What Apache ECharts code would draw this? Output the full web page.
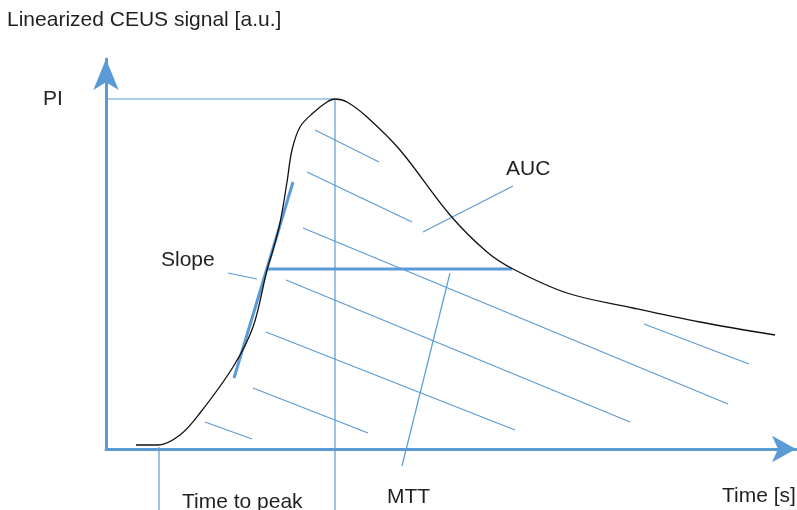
<!DOCTYPE html>
<html>
<head>
<meta charset="utf-8">
<script src="https://cdn.jsdelivr.net/npm/echarts@6/dist/echarts.min.js"></script>
<style>html,body{margin:0;padding:0;background:#fff}#c{width:797px;height:510px}</style>
</head>
<body>
<div id="c"></div>
<script>
// Time-intensity curve (time in s, signal in a.u.)
const curve = [[3.0,0.4],[5.2,0.4],[7.4,1.4],[9.4,3.6],[12.7,8.2],[14.7,12.2],[16.1,17.9],[16.7,19.9],[17.4,22.6],[18.1,26.7],[18.6,29.9],[19.4,32.2],[20.7,33.6],[22.1,34.7],[22.9,35.0],[24.1,34.7],[26.1,33.2],[29.4,29.9],[34.4,23.4],[38.1,19.7],[40.7,18.0],[46.1,15.6],[52.7,14.1],[59.4,12.7],[66.9,11.4]];
const peakTime = 22.9;
const peakIntensity = 35.0;
const timeToPeakStart = 5.3;
const slopeLine = [[12.8,7.1],[18.7,26.7]];
const halfLine = [[16.1,18.0],[40.6,18.0]];
const hatchLines = [
  [[20.9,31.9],[27.3,28.7]],
  [[20.1,27.7],[30.6,22.7]],
  [[19.7,22.1],[62.2,4.5]],
  [[18.0,16.9],[52.4,2.7]],
  [[16.0,11.7],[40.9,1.9]],
  [[14.7,6.1],[26.2,1.6]],
  [[9.9,2.7],[14.6,1.0]],
  [[53.8,12.5],[64.3,8.5]]
];
const pointerLines = [
  [[12.2,17.6],[15.1,17.0]],   // Slope
  [[40.7,26.3],[31.7,21.7]],   // AUC
  [[34.4,17.6],[29.6,-1.7]]    // MTT
];
const guideLines = [
  [[-1.2,peakIntensity],[peakTime,peakIntensity]],
  [[peakTime,peakIntensity],[peakTime,-6.1]],
  [[timeToPeakStart,0.2],[timeToPeakStart,-6.1]]
];
const labels = [
  {text:'Linearized CEUS signal [a.u.]', x:7, y:18},
  {text:'PI', x:43, y:97},
  {text:'Slope', x:161, y:258},
  {text:'AUC', x:506, y:167},
  {text:'Time to peak', x:182, y:500},
  {text:'MTT', x:387, y:495},
  {text:'Time [s]', x:722, y:494}
];

const BLUE = '#5b9bd5';
const series = [];
function seg(pts, width, color, z) {
  series.push({type:'line', data:pts, showSymbol:false, symbol:'none', clip:false, silent:true,
    lineStyle:{color:color||BLUE, width:width}, z:z||2, animation:false});
}
hatchLines.forEach(p => seg(p, 1.2));
pointerLines.forEach(p => seg(p, 1.2));
guideLines.forEach(p => seg(p, 1.2));
seg(slopeLine, 3, BLUE, 4);
seg(halfLine, 3, BLUE, 4);
series.push({type:'line', data:curve, smooth:0.35, showSymbol:false, symbol:'none', clip:false, silent:true,
  lineStyle:{color:'#111', width:1.3}, z:5, animation:false});

const axisCommon = {
  axisLine:{show:true, symbol:['none','arrow'], lineStyle:{color:BLUE, width:3}},
  axisTick:{show:false}, axisLabel:{show:false}, splitLine:{show:false}
};

const chart = echarts.init(document.getElementById('c'), null, {renderer:'canvas'});
chart.setOption({
  animation:false,
  backgroundColor:'#fff',
  grid:{left:106, right:1, top:59, bottom:61, containLabel:false},
  xAxis:Object.assign({type:'value', min:0, max:69}, axisCommon, {axisLine:Object.assign({}, axisCommon.axisLine, {symbolSize:[20,24]})}),
  yAxis:Object.assign({type:'value', min:0, max:39}, axisCommon, {axisLine:Object.assign({}, axisCommon.axisLine, {symbolSize:[19,31]})}),
  series:series,
  graphic:labels.map(l => ({type:'text', left:l.x, top:l.y - 8.5, z:10,
    style:{text:l.text, fill:'#231f20', font:'21px "Liberation Sans", Arial, sans-serif'}}))
});
</script>
</body>
</html>
